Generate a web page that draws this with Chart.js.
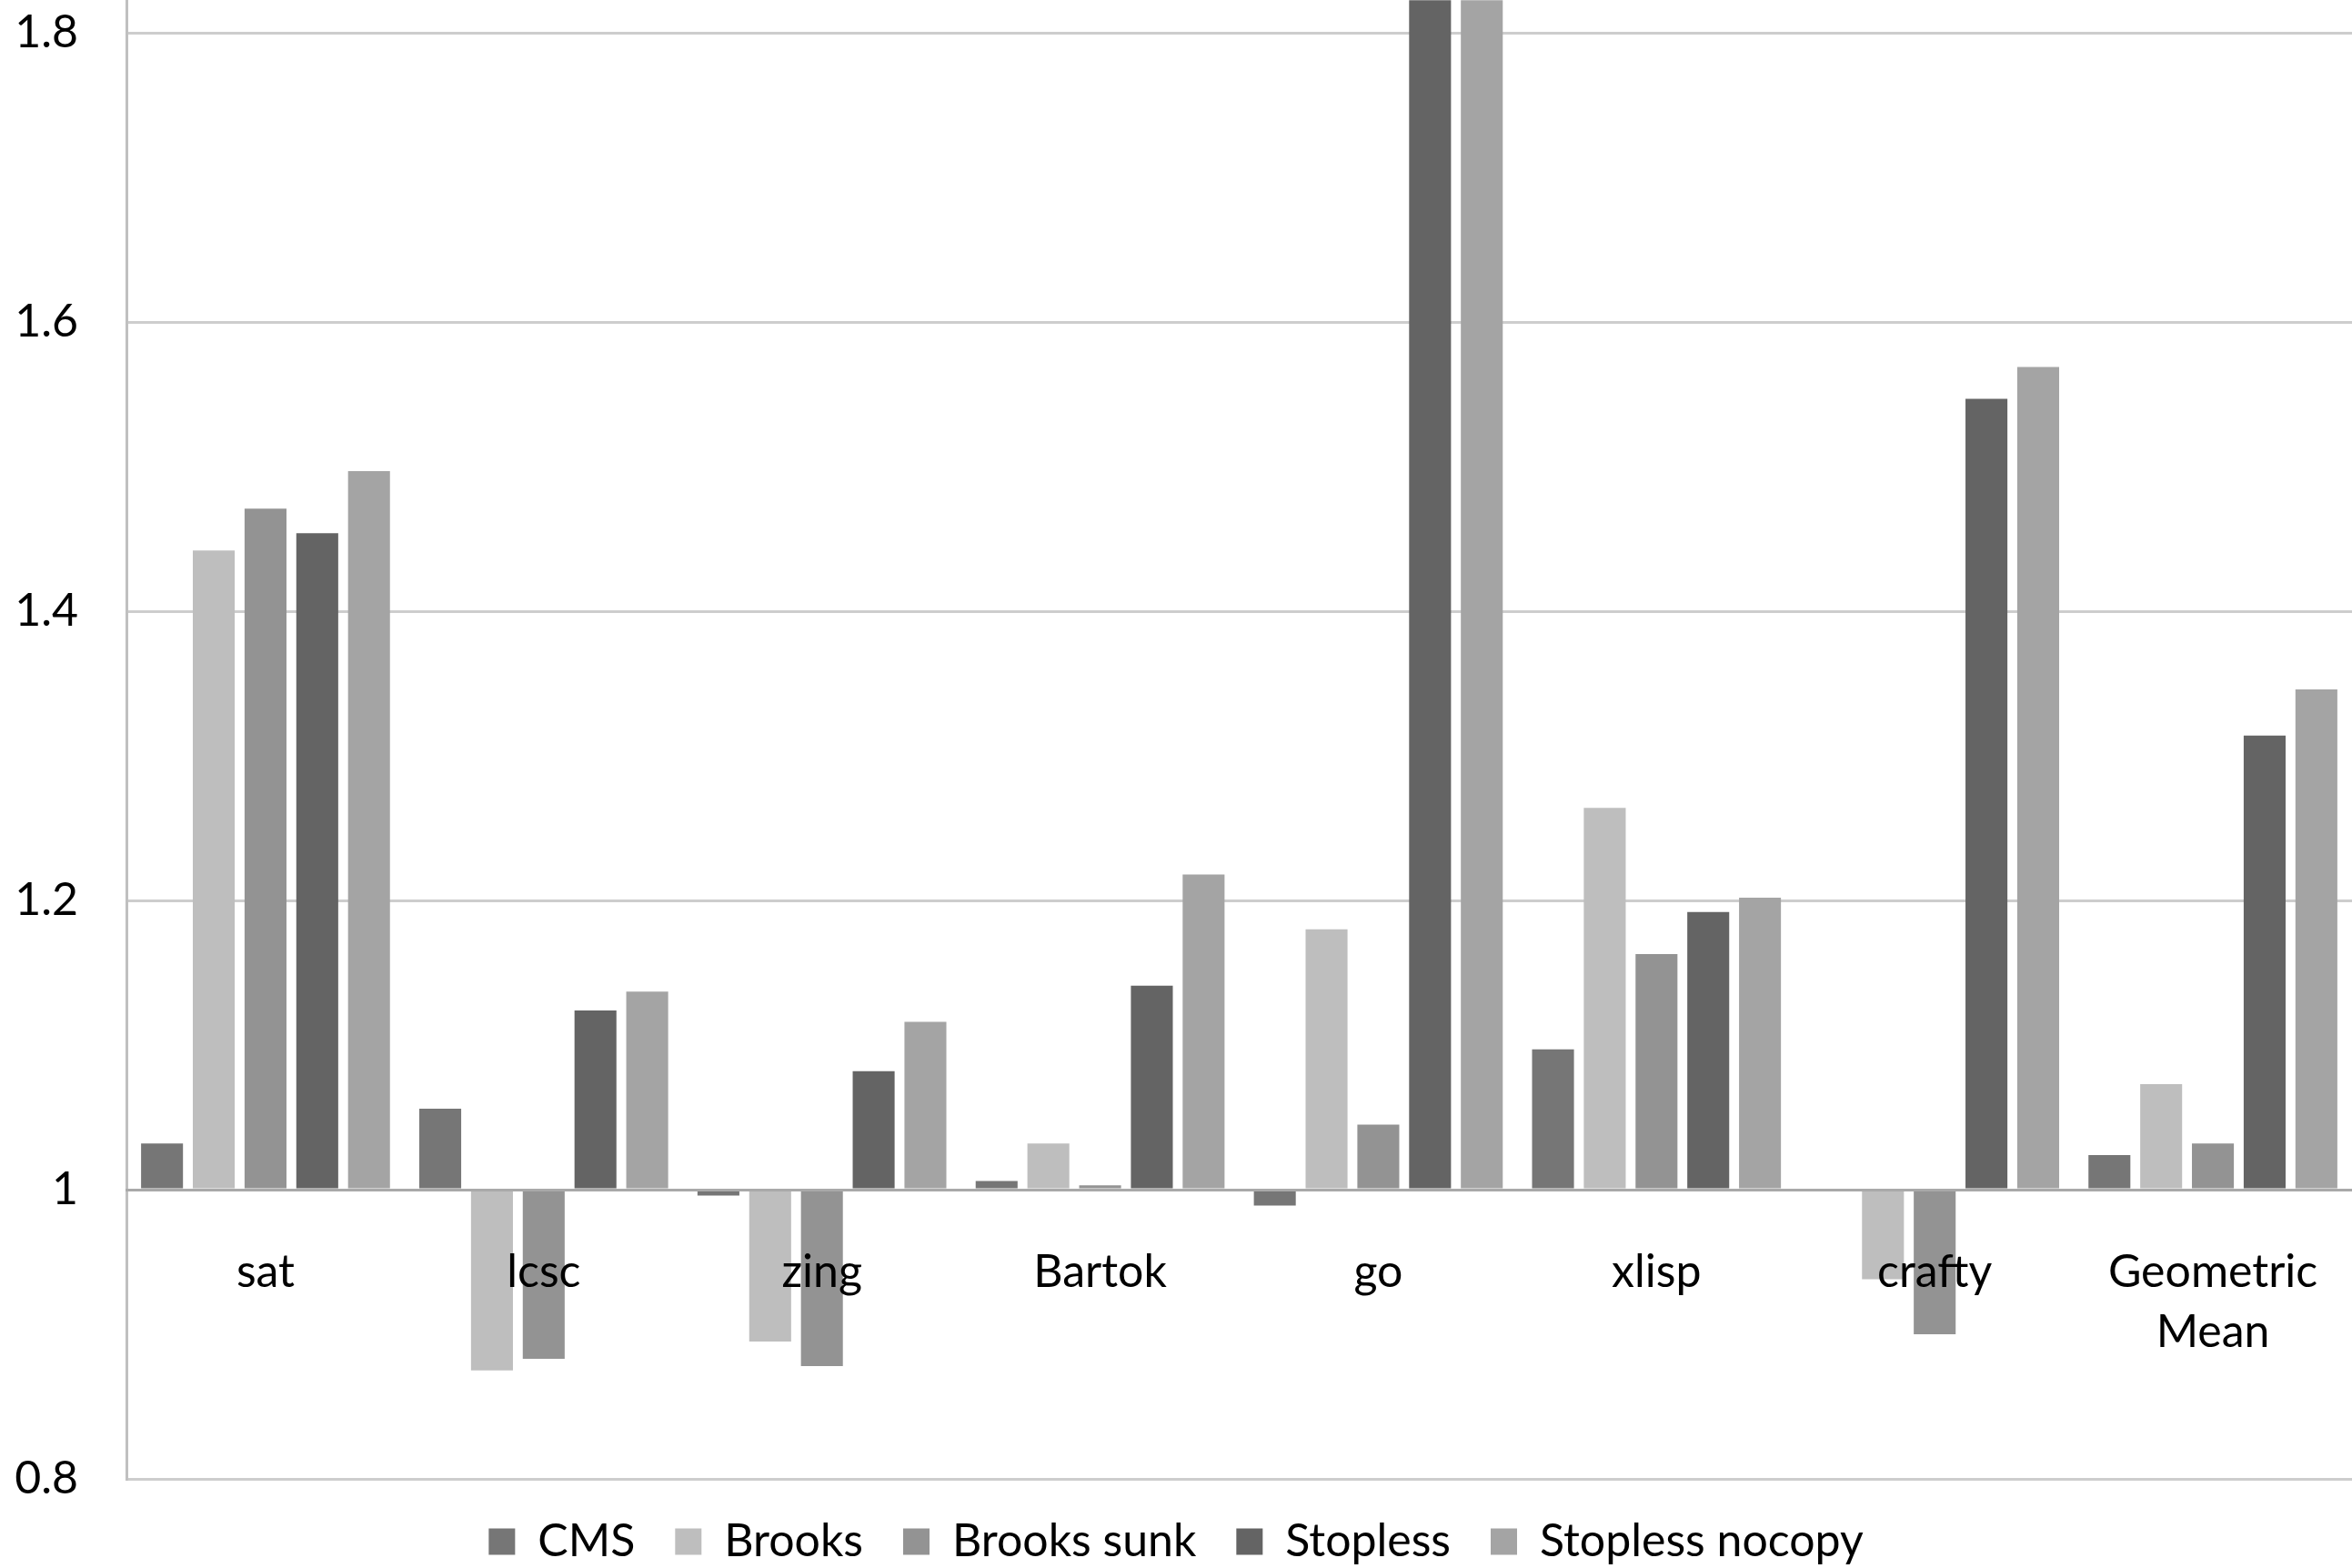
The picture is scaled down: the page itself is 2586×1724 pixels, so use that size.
<!DOCTYPE html>
<html>
<head>
<meta charset="utf-8">
<script src="https://cdn.jsdelivr.net/npm/chart.js@4"></script>
<style>
  html, body { margin: 0; padding: 0; background: #fff; }
  #wrap { width: 2586px; height: 1724px; position: relative; }
</style>
</head>
<body>
<div id="wrap"><canvas id="chart"></canvas></div>
<script>
// benchmarks
const categories = ['sat', 'lcsc', 'zing', 'Bartok', 'go', 'xlisp', 'crafty', ['Geometric', 'Mean']];

// values (bars grow from 1.0)
const cms            = [1.032, 1.056, 0.996, 1.006, 0.989, 1.097, 1.000, 1.024];
const brooks         = [1.442, 0.875, 0.895, 1.032, 1.180, 1.264, 0.938, 1.073];
const brooksSunk     = [1.471, 0.883, 0.878, 1.003, 1.045, 1.163, 0.900, 1.032];
const stopless       = [1.454, 1.124, 1.082, 1.141, 1.980, 1.192, 1.547, 1.314];
const stoplessNocopy = [1.497, 1.137, 1.116, 1.218, 2.030, 1.202, 1.569, 1.346];

const yTicks = [0.8, 1.0, 1.2, 1.4, 1.6, 1.8];

const FONT = 'Lato';

function series(label, data, color) {
    return {
        label: label,
        data: data,
        backgroundColor: color,
        borderWidth: 0,
        base: 1,
        barPercentage: 0.81,
        categoryPercentage: 0.93
    };
}

const ctx = document.getElementById('chart');
new Chart(ctx, {
    type: 'bar',
    data: {
        labels: categories,
        datasets: [
            series('CMS', cms, '#767676'),
            series('Brooks', brooks, '#bebebe'),
            series('Brooks sunk', brooksSunk, '#939393'),
            series('Stopless', stopless, '#646464'),
            series('Stopless nocopy', stoplessNocopy, '#a4a4a4')
        ]
    },
    options: {
        responsive: true,
        maintainAspectRatio: false,
        animation: false,
        layout: { padding: 0 },
        plugins: {
            tooltip: { enabled: false },
            legend: {
                position: 'bottom',
                maxHeight: 98,
                labels: {
                    font: { family: FONT, size: 50 },
                    color: '#000',
                    boxWidth: 29,
                    boxHeight: 29,
                    padding: 44
                }
            }
        },
        scales: {
            x: {
                position: { y: 1 },
                offset: true,
                // ticks kept invisible, their length just pushes the labels down
                grid: { color: 'transparent', drawTicks: true, tickLength: 58, tickColor: 'transparent' },
                border: { color: '#a9a9a9', width: 3, z: 1 },
                ticks: {
                    z: 1, // labels sit on top of the bars
                    font: { family: FONT, size: 50, lineHeight: 1.32 },
                    color: '#000',
                    padding: 0,
                    maxRotation: 0,
                    autoSkip: false
                }
            },
            y: {
                min: 0.8,
                max: 1.8226,
                afterFit: (scale) => { scale.width = 139; },
                afterBuildTicks: (scale) => { scale.ticks = yTicks.map(v => ({ value: v })); },
                grid: { color: '#cdcdcd', lineWidth: 3, drawTicks: true, tickLength: 53, tickColor: 'transparent' },
                border: { color: '#c0c0c0', width: 3 },
                ticks: {
                    font: { family: FONT, size: 50, lineHeight: 0.01 },
                    color: '#000',
                    padding: 0,
                    callback: (v) => (Math.abs(v - 1) < 1e-9 ? '1' : v.toFixed(1))
                }
            }
        }
    }
});
</script>
</body>
</html>
